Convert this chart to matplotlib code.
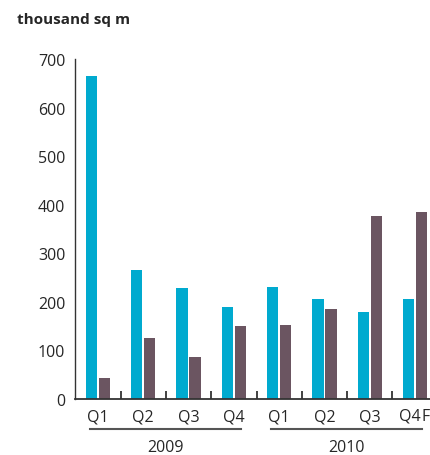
import numpy as np
import matplotlib.pyplot as plt
from matplotlib.transforms import blended_transform_factory

plt.rcParams['font.family'] = ['Open Sans', 'DejaVu Sans']

# quarterly values, thousand sq m
quarters = ["Q1", "Q2", "Q3", "Q4", "Q1", "Q2", "Q3", "Q4"]
years = ["2009", "2010"]
blue_vals = [665, 266, 229, 190, 231, 206, 179, 206]
purple_vals = [43, 126, 86, 150, 152, 186, 377, 385]

blue = "#00aacf"
purple = "#6b5561"
dark = "#333333"
txt = "#262626"

fig = plt.figure(figsize=(4.30, 4.56), dpi=100)
ax = fig.add_axes([0.1744, 0.1228, 0.8256, 0.7456])

x = np.arange(len(quarters))
w = 0.25
ax.bar(x - 0.143, blue_vals, width=w, color=blue)
ax.bar(x + 0.143, purple_vals, width=w, color=purple)

ax.set_xlim(-0.508, 7.33)
ax.set_ylim(0, 700)
ax.set_yticks(range(0, 701, 100))
ax.tick_params(axis='y', length=0, pad=7, labelsize=11.5, labelcolor=txt)

# the last quarter label is drawn by hand next to the F marker
ax.set_xticks(x)
ax.set_xticklabels(quarters[:-1] + [""])
ax.set_xticks(x[:-1] + 0.5, minor=True)
ax.tick_params(axis='x', which='major', length=0, pad=7, labelsize=11.5, labelcolor=txt)
ax.tick_params(axis='x', which='minor', direction='in', length=6, width=1.3, color=dark)

for s in ["top", "right"]:
    ax.spines[s].set_visible(False)
ax.spines["left"].set_color(dark)
ax.spines["left"].set_linewidth(1.0)
ax.spines["bottom"].set_color(dark)
ax.spines["bottom"].set_linewidth(1.3)

# year brackets under the quarter labels
tr = blended_transform_factory(ax.transData, ax.transAxes)
spans = [(-0.18, 3.16), (3.82, 7.15)]
for (a, b), yr in zip(spans, years):
    ax.plot([a, b], [-0.088, -0.088], color="#555555", lw=1.5,
            transform=tr, clip_on=False)
    ax.text((a + b) / 2, -0.14, yr, transform=tr, ha="center", va="center",
            fontsize=11.5, color=txt)

# last quarter label plus forecast marker at the right edge
label_y = 1 - 417 / 456
fig.text(420.5 / 430, label_y, quarters[-1], ha="right", va="center",
         fontsize=11.5, color=txt)
fig.text(421.5 / 430, label_y, "F", ha="left", va="center",
         fontsize=11.5, color=txt)

fig.text(17 / 430, 1 - 20 / 456, "thousand sq m", ha="left", va="center",
         fontsize=11, fontweight="bold", color=txt)

fig.savefig("out.png", dpi=100)
